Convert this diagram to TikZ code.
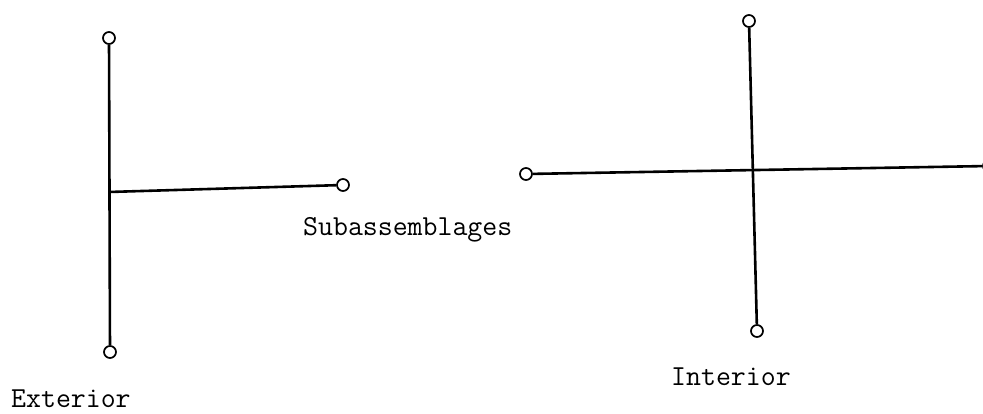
\documentclass[tikz,border=0pt]{standalone}
\begin{document}
\begin{tikzpicture}[x=1pt,y=-1pt,
  term/.style={circle,draw,line width=1.7pt,minimum size=12pt,inner sep=0pt},
  member/.style={line width=2.6pt},
  lbl/.style={anchor=base west,inner sep=0pt,font=\ttfamily\fontsize{29}{33}\selectfont}]
\useasboundingbox (0,0) rectangle (983,414);
% Exterior subassemblage
\node[term] (et) at (109,38) {};
\node[term] (eb) at (110,352) {};
\node[term] (er) at (343,185) {};
\coordinate (ej) at (108.7,192);
\draw[member] (et) -- (eb);
\draw[member] (ej) -- (er);
% Interior subassemblage
\node[term] (it) at (749,21) {};
\node[term] (ib) at (757,331) {};
\node[term] (il) at (526,174) {};
\node[term] (ir) at (989,166) {};
\draw[member] (it) -- (ib);
\draw[member] (il) -- (ir);
% Labels
\node[lbl] (lsub) at (303,236) {Subassemblages};
\node[lbl] (lext) at (11,407) {Exterior};
\node[lbl] (lint) at (671,385) {Interior};
\end{tikzpicture}
\end{document}
